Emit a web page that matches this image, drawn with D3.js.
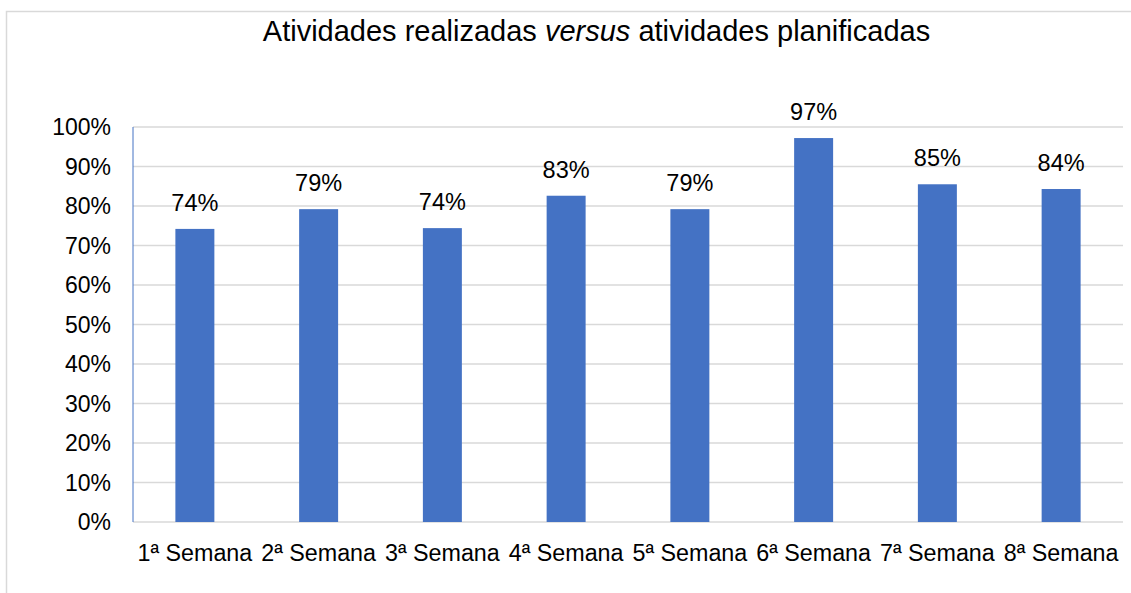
<!DOCTYPE html>
<html><head><meta charset="utf-8">
<script src="https://cdn.jsdelivr.net/npm/d3@7"></script>
<style>body{margin:0;background:#fff}svg{display:block}text{font-family:"Liberation Sans",Arial,sans-serif;fill:#000}</style>
</head><body><svg id="c" width="1131" height="593"></svg>
<script>
const categories = ["1ª Semana","2ª Semana","3ª Semana","4ª Semana","5ª Semana","6ª Semana","7ª Semana","8ª Semana"];
const values = [0.742, 0.792, 0.744, 0.826, 0.792, 0.972, 0.855, 0.843];
const labels = ["74%","79%","74%","83%","79%","97%","85%","84%"];
const yTicks = [0,0.1,0.2,0.3,0.4,0.5,0.6,0.7,0.8,0.9,1.0];

const svg = d3.select("#c");
svg.append("rect").attr("x",6.5).attr("y",11.5).attr("width",1140).attr("height",600)
  .attr("fill","#fff").attr("stroke","#d9d9d9").attr("stroke-width",1.5);

const L=133, R=1123, T=127, B=522;
const x = d3.scaleBand().domain(categories).range([L,R]).paddingInner(0.685).paddingOuter(0.3425);
const y = d3.scaleLinear().domain([0,1]).range([B,T]);

svg.append("g").selectAll("line").data(yTicks).join("line")
  .attr("x1",L).attr("x2",R).attr("y1",d=>y(d)).attr("y2",d=>y(d))
  .attr("stroke","#d9d9d9").attr("stroke-width",1.5);

svg.append("line").attr("x1",L).attr("x2",L).attr("y1",T).attr("y2",B)
  .attr("stroke","#4472c4").attr("stroke-width",1);

svg.append("g").selectAll("rect").data(values).join("rect")
  .attr("x",(d,i)=>x(categories[i])).attr("width",x.bandwidth())
  .attr("y",d=>y(d)).attr("height",d=>B-y(d)).attr("fill","#4472c4");

svg.append("g").selectAll("text").data(values).join("text")
  .attr("x",(d,i)=>x(categories[i])+x.bandwidth()/2).attr("y",d=>y(d)-18)
  .attr("text-anchor","middle").attr("font-size",23.5).text((d,i)=>labels[i]);

svg.append("g").selectAll("text").data(yTicks).join("text")
  .attr("x",111).attr("y",d=>y(d)+8).attr("text-anchor","end").attr("font-size",23)
  .text(d=>Math.round(d*100)+"%");

svg.append("g").selectAll("text").data(categories).join("text")
  .attr("x",d=>x(d)+x.bandwidth()/2).attr("y",561).attr("text-anchor","middle").attr("font-size",23.3)
  .text(d=>d);

const t = svg.append("text").attr("x",596.5).attr("y",41).attr("text-anchor","middle").attr("font-size",29);
t.append("tspan").text("Atividades realizadas ");
t.append("tspan").attr("font-style","italic").text("versus");
t.append("tspan").text(" atividades planificadas");
</script></body></html>
